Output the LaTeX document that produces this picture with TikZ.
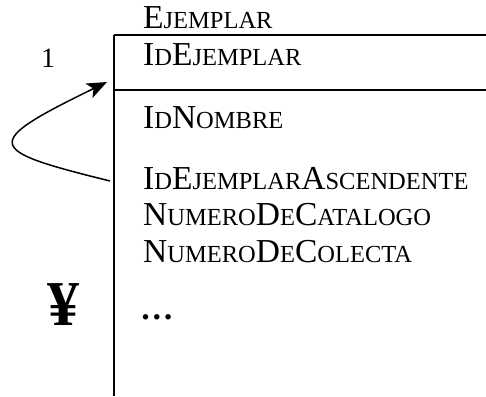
\documentclass[tikz,border=0pt]{standalone}
\usepackage{fontspec}
\setmainfont{Liberation Serif}
\usetikzlibrary{arrows.meta}
\newcommand{\smc}[1]{{\fontsize{24.5}{24.5}\selectfont #1}}
\tikzset{
	attr/.style={anchor=base west,inner sep=0pt,font=\fontsize{33.5}{33.5}\selectfont},
}

\begin{document}
\begin{tikzpicture}[x=1pt,y=-1pt]
\useasboundingbox (0,0) rectangle (486,396);
% tabla
\draw[line width=2pt] (114,35) -- (486,35);
\draw[line width=1.6pt] (114,90) -- (486,90);
\draw[line width=1.6pt] (114,35) -- (114,396);
\node[attr] (tabla) at (143,29) {E\smc{JEMPLAR}};
\node[attr] (idej) at (143,65) {I\smc{D}E\smc{JEMPLAR}};
\node[attr] (idnom) at (143,128) {I\smc{D}N\smc{OMBRE}};
\node[attr] (idasc) at (143,189) {I\smc{D}E\smc{JEMPLAR}A\smc{SCENDENTE}};
\node[attr] (numcat) at (143,225) {N\smc{UMERO}D\smc{E}C\smc{ATALOGO}};
\node[attr] (numcol) at (143,262) {N\smc{UMERO}D\smc{E}C\smc{OLECTA}};
\node[attr] (resto) at (140,319) {\textbf{\ldots}};
% cardinalidad
\node[attr,anchor=base,font=\fontsize{28}{28}\selectfont] (uno) at (48,67) {1};
\node[anchor=base,inner sep=0pt,font=\fontsize{64}{64}\selectfont\bfseries] (muchos) at (63,325) {¥};
% relacion recursiva
\coordinate (src) at (110,181);
\coordinate (dst) at (107,82);
\draw[line width=1.5pt,-{Stealth[length=20pt,width=16pt,inset=5pt]}] (src) .. controls (-15,150) and (-20,144) .. (dst);
\end{tikzpicture}
\end{document}
